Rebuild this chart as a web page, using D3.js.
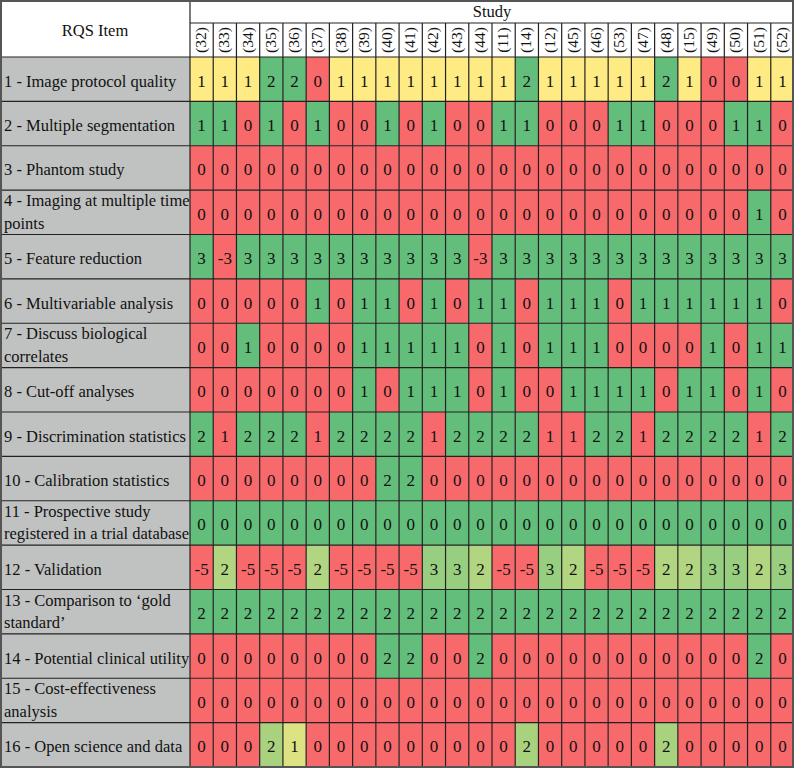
<!DOCTYPE html>
<html>
<head>
<meta charset="utf-8">
<script src="https://cdn.jsdelivr.net/npm/d3@7"></script>
<style>
  body { margin: 0; background: #fff; }
</style>
</head>
<body>
<div id="viz"></div>
<script>
var studies = ['(32)', '(33)', '(34)', '(35)', '(36)', '(37)', '(38)', '(39)', '(40)', '(41)', '(42)', '(43)', '(44)',
  '(11)', '(14)', '(12)', '(45)', '(46)', '(53)', '(47)', '(48)', '(15)', '(49)', '(50)', '(51)', '(52)']

var items = [
  ['1 - Image protocol quality'],
  ['2 - Multiple segmentation'],
  ['3 - Phantom study'],
  ['4 - Imaging at multiple time', 'points'],
  ['5 - Feature reduction'],
  ['6 - Multivariable analysis'],
  ['7 - Discuss biological', 'correlates'],
  ['8 - Cut-off analyses'],
  ['9 - Discrimination statistics'],
  ['10 - Calibration statistics'],
  ['11 - Prospective study', 'registered in a trial database'],
  ['12 - Validation'],
  ['13 - Comparison to \u2018gold', 'standard\u2019'],
  ['14 - Potential clinical utility'],
  ['15 - Cost-effectiveness', 'analysis'],
  ['16 - Open science and data']
]

var scores = [
  [1, 1, 1, 2, 2, 0, 1, 1, 1, 1, 1, 1, 1, 1, 2, 1, 1, 1, 1, 1, 2, 1, 0, 0, 1, 1],
  [1, 1, 0, 1, 0, 1, 0, 0, 1, 0, 1, 0, 0, 1, 1, 0, 0, 0, 1, 1, 0, 0, 0, 1, 1, 0],
  [0, 0, 0, 0, 0, 0, 0, 0, 0, 0, 0, 0, 0, 0, 0, 0, 0, 0, 0, 0, 0, 0, 0, 0, 0, 0],
  [0, 0, 0, 0, 0, 0, 0, 0, 0, 0, 0, 0, 0, 0, 0, 0, 0, 0, 0, 0, 0, 0, 0, 0, 1, 0],
  [3, -3, 3, 3, 3, 3, 3, 3, 3, 3, 3, 3, -3, 3, 3, 3, 3, 3, 3, 3, 3, 3, 3, 3, 3, 3],
  [0, 0, 0, 0, 0, 1, 0, 1, 1, 0, 1, 0, 1, 1, 0, 1, 1, 1, 0, 1, 1, 1, 1, 1, 1, 0],
  [0, 0, 1, 0, 0, 0, 0, 1, 1, 1, 1, 1, 0, 1, 0, 1, 1, 1, 0, 0, 0, 0, 1, 0, 1, 1],
  [0, 0, 0, 0, 0, 0, 0, 1, 0, 1, 1, 1, 0, 1, 0, 0, 1, 1, 1, 1, 0, 1, 1, 0, 1, 0],
  [2, 1, 2, 2, 2, 1, 2, 2, 2, 2, 1, 2, 2, 2, 2, 1, 1, 2, 2, 1, 2, 2, 2, 2, 1, 2],
  [0, 0, 0, 0, 0, 0, 0, 0, 2, 2, 0, 0, 0, 0, 0, 0, 0, 0, 0, 0, 0, 0, 0, 0, 0, 0],
  [0, 0, 0, 0, 0, 0, 0, 0, 0, 0, 0, 0, 0, 0, 0, 0, 0, 0, 0, 0, 0, 0, 0, 0, 0, 0],
  [-5, 2, -5, -5, -5, 2, -5, -5, -5, -5, 3, 3, 2, -5, -5, 3, 2, -5, -5, -5, 2, 2, 3, 3, 2, 3],
  [2, 2, 2, 2, 2, 2, 2, 2, 2, 2, 2, 2, 2, 2, 2, 2, 2, 2, 2, 2, 2, 2, 2, 2, 2, 2],
  [0, 0, 0, 0, 0, 0, 0, 0, 2, 2, 0, 0, 2, 0, 0, 0, 0, 0, 0, 0, 0, 0, 0, 0, 2, 0],
  [0, 0, 0, 0, 0, 0, 0, 0, 0, 0, 0, 0, 0, 0, 0, 0, 0, 0, 0, 0, 0, 0, 0, 0, 0, 0],
  [0, 0, 0, 2, 1, 0, 0, 0, 0, 0, 0, 0, 0, 0, 2, 0, 0, 0, 0, 0, 2, 0, 0, 0, 0, 0]
]

var width = 794, height = 768
var leftW = 190, headTop = 23, headBottom = 57
var FONT = "'Liberation Serif', 'Times New Roman', Times, serif"

var RED = '#f8696b', YELLOW = '#ffeb84', GREEN = '#63be7b'

// colour per cell, roughly like the spreadsheet's row-wise colour scales
function cellColour(row, v) {
  if (row === 10) return GREEN // prospective study row is all green in the source
  if (row === 11) {
    if (v < 0) return RED
    return v === 3 ? '#98ce7f' : '#b1d580'
  }
  if (row === 15) {
    if (v === 0) return RED
    return v === 2 ? '#a9d27f' : '#dde283'
  }
  var vals = scores[row]
  var lo = d3.min(vals), hi = d3.max(vals)
  if (lo === hi) return v === 0 ? RED : GREEN
  if (v === lo) return RED
  if (v === hi) return GREEN
  return YELLOW
}

var svg = d3.select('#viz')
  .append('svg')
  .attr('width', width)
  .attr('height', height)
  .attr('font-family', FONT)
  .style('font-family', FONT)

var x = d3.scaleBand()
  .domain(studies)
  .range([leftW, width])

var y = d3.scaleBand()
  .domain(d3.range(items.length))
  .range([headBottom, height - 1])

// left column background
svg.append('rect')
  .attr('x', 0).attr('y', headBottom)
  .attr('width', leftW).attr('height', height - headBottom)
  .attr('fill', '#c0c2c1')

// cells
var rows = svg.selectAll('g.row')
  .data(scores)
  .enter()
  .append('g')
  .attr('class', 'row')

function cells(d, i) {
  return d.map(function(v, j) { return { row: i, col: j, v: v } })
}

rows.selectAll('rect')
  .data(cells)
  .enter()
  .append('rect')
  .attr('x', function(d) { return x(studies[d.col]) })
  .attr('y', function(d) { return y(d.row) })
  .attr('width', x.bandwidth())
  .attr('height', y.bandwidth())
  .attr('fill', function(d) { return cellColour(d.row, d.v) })

rows.selectAll('text')
  .data(cells)
  .enter()
  .append('text')
  .attr('x', function(d) { return x(studies[d.col]) + x.bandwidth() / 2 })
  .attr('y', function(d) { return y(d.row) + y.bandwidth() / 2 + 7.5 })
  .attr('text-anchor', 'middle')
  .attr('font-size', 17)
  .attr('fill', '#111')
  .text(function(d) { return d.v })

// item labels
svg.selectAll('text.item')
  .data(items)
  .enter()
  .append('text')
  .attr('class', 'item')
  .attr('font-size', 16.5)
  .attr('fill', '#111')
  .each(function(lines, i) {
    var t = d3.select(this)
    var y0 = y(i) + y.bandwidth() / 2 + 7.5 - (lines.length - 1) * 13.5
    lines.forEach(function(l, k) {
      t.append('tspan').attr('x', 4).attr('y', y0 + k * 22.3).text(l)
    })
  })

// header
svg.append('text')
  .attr('x', leftW / 2).attr('y', 36)
  .attr('text-anchor', 'middle')
  .attr('font-size', 16.5)
  .attr('fill', '#111')
  .text('RQS Item')

svg.append('text')
  .attr('x', (leftW + width) / 2).attr('y', 17)
  .attr('text-anchor', 'middle')
  .attr('font-size', 16.5)
  .attr('fill', '#111')
  .text('Study')

svg.selectAll('text.study')
  .data(studies)
  .enter()
  .append('text')
  .attr('class', 'study')
  .attr('font-size', 15.5)
  .attr('fill', '#111')
  .attr('text-anchor', 'middle')
  .attr('transform', function(d) {
    return 'translate(' + (x(d) + x.bandwidth() / 2 + 4.5) + ',' + (headTop + headBottom) / 2 + ')rotate(-90)'
  })
  .text(function(d) { return d })

// grid lines
var grid = svg.append('g').attr('stroke', '#222').attr('stroke-width', 1.2)

y.domain().forEach(function(i) {
  grid.append('line')
    .attr('x1', 0).attr('x2', width)
    .attr('y1', y(i)).attr('y2', y(i))
})
grid.append('line')
  .attr('x1', leftW).attr('x2', width)
  .attr('y1', headTop).attr('y2', headTop)

studies.forEach(function(s, j) {
  if (j === 0) return
  grid.append('line')
    .attr('x1', x(s)).attr('x2', x(s))
    .attr('y1', headTop).attr('y2', height)
})
grid.append('line')
  .attr('x1', leftW).attr('x2', leftW)
  .attr('y1', 0).attr('y2', height)

// outer border
svg.append('rect')
  .attr('x', 1).attr('y', 1)
  .attr('width', width - 2).attr('height', height - 2)
  .attr('fill', 'none')
  .attr('stroke', '#555')
  .attr('stroke-width', 2)
</script>
</body>
</html>
